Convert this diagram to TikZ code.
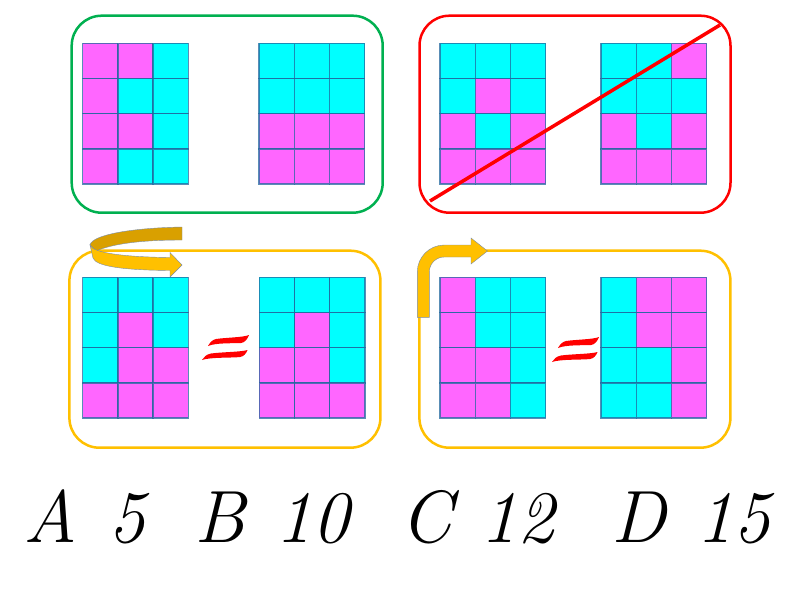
\documentclass[tikz,border=0pt]{standalone}
\usepackage{fontspec}
\definecolor{mg}{HTML}{FF66FF}
\definecolor{cy}{HTML}{00FFFF}
\definecolor{gridline}{HTML}{22689E}
\definecolor{boxgreen}{HTML}{00B050}
\definecolor{boxred}{HTML}{FF0000}
\definecolor{boxorange}{HTML}{FFC000}
\definecolor{arrowdark}{HTML}{D9A000}
\definecolor{arrowlight}{HTML}{FFC000}
\definecolor{arrowedge}{HTML}{7A8CA8}
\definecolor{eqred}{HTML}{FF0000}
\newcommand\cellgrid[4]{%
  \foreach \cl [count=\i from 0] in {#4} {%
    \pgfmathtruncatemacro\col{mod(\i,3)}%
    \pgfmathtruncatemacro\row{\i/3}%
    \node[cellbox, fill=\cl] (#1-\i) at ({#2+(\col+0.5)*35.2},{#3+(\row+0.5)*35.2}) {};
  }}
\newcommand\eqbars[2]{%
  \begin{scope}[shift={(#1,#2)}]
    \fill[eqred] (208,346) .. controls (216,342.5) and (234,343.5) .. (241,343)
      .. controls (245,342.5) and (247.5,339) .. (249,335)
      .. controls (243,337.5) and (226,337.5) .. (216,339)
      .. controls (212,340) and (210,342.5) .. (208,346) -- cycle;
    \fill[eqred] (202,360) .. controls (210,357) and (232,358) .. (240,357)
      .. controls (244,356.5) and (246,353.5) .. (247.5,350)
      .. controls (241,352) and (222,352) .. (211,353.5)
      .. controls (206,354.5) and (204,357) .. (202,360) -- cycle;
  \end{scope}}
\begin{document}
\begin{tikzpicture}[x=1pt,y=-1pt,
  cellbox/.style={draw=gridline, draw opacity=0.75, line width=1.4pt, minimum size=35.2pt, inner sep=0pt, outer sep=0pt},
  panel/.style={draw=#1, line width=2.5pt, rounded corners=30pt, minimum width=311pt, minimum height=197pt, inner sep=0pt, outer sep=0pt},
  ribbon/.style={draw=arrowedge, line width=0.4pt},
  lbl/.style={font=\fontsize{74}{80}\selectfont\itshape, anchor=base, inner sep=0pt}]
\useasboundingbox (0,0) rectangle (800,600);
\fill[white] (0,0) rectangle (800,600);
% panels
\node[panel=boxgreen] (p1) at (227.2,114.2) {};
\node[panel=boxred] (p2) at (575,114.2) {};
\node[panel=boxorange] (p3) at (224.9,349.2) {};
\node[panel=boxorange] (p4) at (574.9,349.2) {};
% grids
\cellgrid{g1}{82.7}{43.3}{mg,mg,cy,mg,cy,cy,mg,mg,cy,mg,cy,cy}
\cellgrid{g2}{259}{43.3}{cy,cy,cy,cy,cy,cy,mg,mg,mg,mg,mg,mg}
\cellgrid{g3}{440}{43.3}{cy,cy,cy,cy,mg,cy,mg,cy,mg,mg,mg,mg}
\cellgrid{g4}{601}{43.3}{cy,cy,mg,cy,cy,cy,mg,cy,mg,mg,mg,mg}
\cellgrid{g5}{82.7}{277.3}{cy,cy,cy,cy,mg,cy,cy,mg,mg,mg,mg,mg}
\cellgrid{g6}{259.3}{277.3}{cy,cy,cy,cy,mg,cy,mg,mg,cy,mg,mg,mg}
\cellgrid{g7}{440}{277.3}{mg,cy,cy,mg,cy,cy,mg,mg,cy,mg,mg,cy}
\cellgrid{g8}{601}{277.3}{cy,mg,mg,cy,mg,mg,cy,cy,mg,cy,cy,mg}
% strike-through line
\coordinate (s1) at (430,201);
\coordinate (s2) at (720,25);
\draw[boxred, line width=3.5pt] (s1) -- (s2);
% equals signs
\eqbars{0}{0}
\eqbars{350}{2}
% curved arrow (bottom left)
\filldraw[ribbon, fill=arrowdark] (182,227) .. controls (130,228) and (92,235) .. (90,245)
  -- (96,251) .. controls (112,244) and (140,240) .. (182,240) -- cycle;
\filldraw[ribbon, fill=arrowlight] (90,245) .. controls (92,253) and (125,257) .. (170,257.5)
  -- (170,252.5) -- (182,265) -- (170,277) -- (170,270.5)
  .. controls (120,270) and (96,266) .. (93,258) -- cycle;
% bent arrow (bottom right)
\filldraw[ribbon, fill=arrowlight] (417.3,317.3) -- (417.3,272)
  .. controls (417.3,257.1) and (429.4,245) .. (444.3,245) -- (471,245) -- (471,238)
  -- (487.5,251) -- (471,264) -- (471,257) -- (444.3,257)
  .. controls (436,257) and (429.3,263.7) .. (429.3,272) -- (429.3,317.3) -- cycle;
% answer labels
\node[lbl] (la) at (50,542) {A};
\node[lbl] (na) at (127,542) {5};
\node[lbl] (lb) at (220,542) {B};
\node[lbl] (nb) at (312,542) {10};
\node[lbl] (lc) at (426,542) {C};
\node[lbl] (nc) at (517,542) {12};
\node[lbl] (ld) at (639,542) {D};
\node[lbl] (nd) at (733,542) {15};
\end{tikzpicture}
\end{document}
